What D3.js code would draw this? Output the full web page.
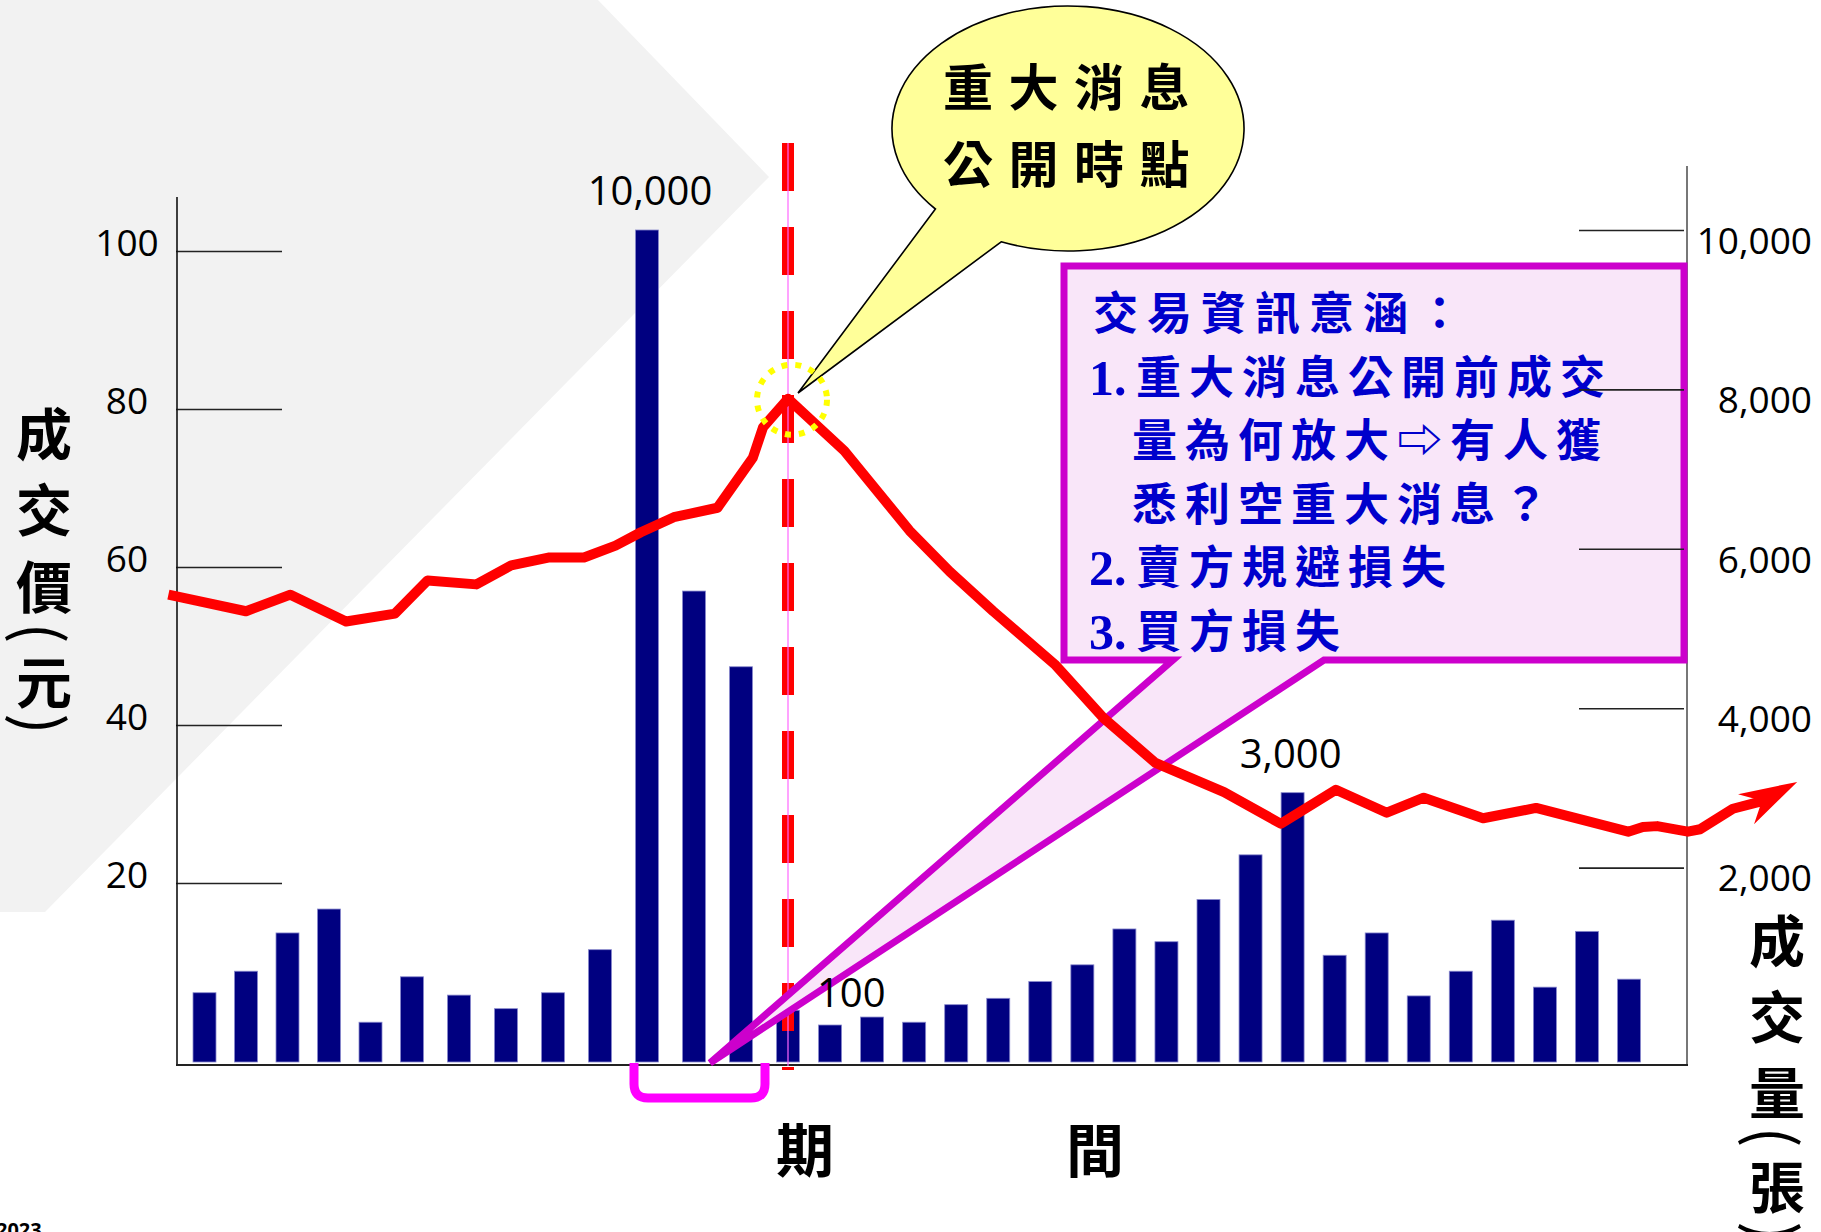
<!DOCTYPE html>
<html><head><meta charset="utf-8">
<script src="https://cdn.jsdelivr.net/npm/d3@7"></script>
<style>
html,body{margin:0;padding:0;background:#fff;overflow:hidden}
svg{display:block}
</style></head><body>
<svg id="chart" width="1821" height="1232"></svg>
<script>
// ---------- data ----------
const days = d3.range(1, 35);
const volume = [430, 700, 1180, 1480, 60, 630, 400, 230, 430, 970,
                10000, 5470, 4520, 210, 25, 125, 60, 280, 360, 570,
                780, 1230, 1070, 1600, 2160, 2940, 900, 1180, 390, 700,
                1340, 500, 1200, 600];
const priceDay = [0.13, 2.00, 3.07, 4.41, 5.59, 6.33, 7.37, 8.11, 8.90, 9.66,
                  10.33, 10.87, 11.57, 12.50, 13.25, 13.47, 14, 15.34, 16.89, 17.85,
                  18.88, 20.34, 21.50, 22.74, 24.37, 25.72, 27.03, 28.24, 29.12, 30.53,
                  31.79, 33.98, 34.33, 34.67, 35.40, 35.69, 36.47, 37.12, 38.00];
const price = [56.5, 54.4, 56.5, 53.1, 54.1, 58.3, 57.8, 60.2, 61.2, 61.2,
               62.7, 64.4, 66.3, 67.5, 73.8, 77.7, 81.3, 74.7, 64.6, 59.4,
               54.4, 47.7, 40.9, 35.2, 31.5, 27.5, 31.8, 28.9, 30.8, 28.2,
               29.5, 26.5, 27.1, 27.2, 26.5, 26.8, 29.4, 30.3, 32.8];
const priceTicks = [20, 40, 60, 80, 100];
const volumeTicks = [2000, 4000, 6000, 8000, 10000];
const eventDay = 14;
const preEventDays = [11, 13];
const barLabelDays = [11, 26, 14];
const barLabelTexts = ["10,000", "3,000", "100"];
const bubbleLines = ["重大消息", "公開時點"];
const infoNums = ["", "1.", "", "", "2.", "3."];
const infoTexts = ["交易資訊意涵：", "重大消息公開前成交", "量為何放大⇨有人獲", "悉利空重大消息？", "賣方規避損失", "買方損失"];
const leftTitle = ["成", "交", "價", "(", "元", ")"];
const rightTitle = ["成", "交", "量", "(", "張", ")"];
const xTitle = ["期", "間"];

// ---------- setup ----------
const svg = d3.select("#chart");
const NUM = "'Open Sans','Liberation Sans',sans-serif";
const CJK = "'Noto Sans CJK TC','Noto Sans CJK SC',sans-serif";
const plotFloor = 1062;

const x = d3.scaleLinear().domain([1, 6, 14, 34]).range([204.5, 412, 788, 1629]);
const yPrice = d3.scaleLinear().domain([20, 100]).range([883, 251]);
const yVol = d3.scaleLinear().domain([0, 10000]).range([1027, 230]);

// background shape
svg.append("polygon").attr("points", "0,0 598,0 769,177 45,912 0,912").attr("fill", "#F2F2F2");

// left axis ticks
const gL = svg.append("g").attr("transform", "translate(176,0)")
  .call(d3.axisRight(yPrice).tickValues(priceTicks).tickSize(106).tickFormat(""));
gL.select(".domain").remove();
gL.selectAll(".tick line").attr("stroke", "#222").attr("stroke-width", 1.6);
svg.selectAll("text.plabel").data(priceTicks).join("text").attr("class", "plabel")
  .attr("x", 127).attr("y", d => yPrice(d) - 8).attr("dy", "0.36em")
  .attr("text-anchor", "middle").attr("font-family", NUM).attr("font-size", 37).attr("fill", "#000")
  .text(d => d);

// axis lines
svg.append("line").attr("x1", 177).attr("x2", 177).attr("y1", 197).attr("y2", 1066).attr("stroke", "#111").attr("stroke-width", 1.6);
svg.append("line").attr("x1", 1687).attr("x2", 1687).attr("y1", 166).attr("y2", 1066).attr("stroke", "#555").attr("stroke-width", 1.6);
svg.append("line").attr("x1", 176).attr("x2", 1688).attr("y1", 1065).attr("y2", 1065).attr("stroke", "#222").attr("stroke-width", 2);

// bars
const barW = 23;
svg.selectAll("rect.bar").data(volume).join("rect").attr("class", "bar")
  .attr("x", (d, i) => x(days[i]) - barW / 2).attr("y", d => yVol(d))
  .attr("width", barW).attr("height", d => plotFloor - yVol(d))
  .attr("fill", "#000080").attr("stroke", "#8888cc").attr("stroke-width", 0.8);

// bracket under pre-event period
const bl = x(preEventDays[0]) - 13, br = x(preEventDays[1]) + 24;
svg.append("path")
  .attr("d", `M${bl},1063 V1084 Q${bl},1098 ${bl + 14},1098 H${br - 14} Q${br},1098 ${br},1084 V1063`)
  .attr("fill", "none").attr("stroke", "#FF00FF").attr("stroke-width", 9);

// event line
const ex = x(eventDay);
svg.append("line").attr("x1", ex).attr("x2", ex).attr("y1", 143).attr("y2", 1070)
  .attr("stroke", "#FF0000").attr("stroke-width", 12).attr("stroke-dasharray", "48,36");
svg.append("line").attr("x1", ex).attr("x2", ex).attr("y1", 143).attr("y2", 1066)
  .attr("stroke", "#FF66FF").attr("stroke-width", 1.2);

// info callout box
svg.append("path")
  .attr("d", "M1064,266 H1684 V660 H1324 L710,1063 L1173,660 H1064 Z")
  .attr("fill", "#F9E6F9").attr("stroke", "#CC00CC").attr("stroke-width", 7);
const info = svg.append("g").attr("fill", "#0000CC");
infoTexts.forEach((t, i) => {
  const yb = 330 + i * 63.6;
  if (infoNums[i]) {
    info.append("text").attr("x", 1089).attr("y", yb + 1)
      .attr("font-family", "'Liberation Serif','Times New Roman',serif").attr("font-weight", 700)
      .attr("font-size", 50).text(infoNums[i]);
  }
  const tx = i === 0 ? 1093 : (infoNums[i] ? 1136 : 1132);
  info.append("text").attr("x", tx).attr("y", yb)
    .attr("font-family", CJK).attr("font-weight", 700).attr("font-size", 45)
    .attr("letter-spacing", i === 0 ? 9 : 8).text(t);
});

// right axis ticks (drawn over the box)
const gR = svg.append("g").attr("transform", "translate(1684,0)")
  .call(d3.axisLeft(yVol).tickValues(volumeTicks).tickSize(105).tickFormat(d3.format(",")));
gR.select(".domain").remove();
gR.selectAll(".tick line").attr("stroke", "#222").attr("stroke-width", 1.6);
gR.selectAll(".tick text").attr("x", 128).attr("dy", "0.36em").attr("y", 10)
  .attr("text-anchor", "end").attr("font-family", NUM).attr("font-size", 37).attr("fill", "#000");

// price line with arrow head
const pts = priceDay.map((d, i) => [x(d), yPrice(price[i])]);
const tip = pts[pts.length - 1], prev = pts[pts.length - 2];
const L = Math.hypot(tip[0] - prev[0], tip[1] - prev[1]);
const u = [(tip[0] - prev[0]) / L, (tip[1] - prev[1]) / L], nrm = [-u[1], u[0]];
const linePts = pts.slice(0, -1).concat([[tip[0] - 36 * u[0], tip[1] - 36 * u[1]]]);
svg.append("path").attr("d", d3.line()(linePts)).attr("fill", "none")
  .attr("stroke", "#FF0000").attr("stroke-width", 10).attr("stroke-linejoin", "round");
const aL = 58, aW = 17, aN = 40;
const head = [
  tip,
  [tip[0] - aL * u[0] + aW * nrm[0], tip[1] - aL * u[1] + aW * nrm[1]],
  [tip[0] - aN * u[0], tip[1] - aN * u[1]],
  [tip[0] - aL * u[0] - aW * nrm[0], tip[1] - aL * u[1] - aW * nrm[1]]
];
svg.append("polygon").attr("points", head.map(p => p.join(",")).join(" ")).attr("fill", "#FF0000");

// speech bubble
svg.append("path")
  .attr("d", "M935.4,209 L798,393 L1001.2,241.8 A176,122.5 0 1 0 935.4,209 Z")
  .attr("fill", "#FFFF99").attr("stroke", "#000").attr("stroke-width", 1.6);
bubbleLines.forEach((t, i) => {
  svg.append("text").attr("x", 943).attr("y", 106 + i * 77)
    .attr("font-family", CJK).attr("font-weight", 700).attr("font-size", 50)
    .attr("letter-spacing", 15.5).attr("fill", "#000").text(t);
});

// dotted highlight circle at the peak
const pk = d3.maxIndex(price);
svg.append("circle").attr("cx", x(priceDay[pk]) + 4).attr("cy", yPrice(price[pk]) + 1).attr("r", 35)
  .attr("fill", "none").attr("stroke", "#FFFF00").attr("stroke-width", 6).attr("stroke-dasharray", "6,8");

// bar value labels
const barLabelDx = [3, -2, 29];
const barLabelAnchor = ["middle", "middle", "start"];
barLabelTexts.forEach((t, i) => {
  const d = barLabelDays[i];
  const yTop = i === 2 ? 1007 : yVol(volume[d - 1]) - 25;
  svg.append("text").attr("x", x(d) + barLabelDx[i]).attr("y", yTop)
    .attr("text-anchor", barLabelAnchor[i]).attr("font-family", NUM).attr("font-size", 40)
    .attr("fill", "#000").text(t);
});

// axis titles
function vTitle(chars, cx, ys) {
  chars.forEach((c, i) => {
    const isParen = c === "(" || c === ")";
    const t = svg.append("text").attr("x", cx).attr("y", ys[i])
      .attr("text-anchor", "middle").attr("dominant-baseline", "central")
      .attr("font-family", CJK).attr("font-weight", isParen ? 400 : 700)
      .attr("font-size", isParen ? 62 : 56).attr("fill", "#000").text(c);
    if (isParen) t.attr("transform", `rotate(90,${cx},${ys[i]})`);
  });
}
vTitle(leftTitle, 44, [430, 506, 583, 633, 678, 724]);
vTitle(rightTitle, 1777, [937, 1013, 1089, 1137, 1183, 1232]);
xTitle.forEach((c, i) => {
  svg.append("text").attr("x", i === 0 ? 805 : 1095).attr("y", 1172)
    .attr("text-anchor", "middle").attr("font-family", CJK).attr("font-weight", 700)
    .attr("font-size", 58).attr("fill", "#000").text(c);
});

// corner footnote
svg.append("text").attr("x", -4).attr("y", 1237).attr("font-family", NUM).attr("font-weight", 700)
  .attr("font-size", 20).attr("fill", "#000").text("2023");
</script>
</body></html>
